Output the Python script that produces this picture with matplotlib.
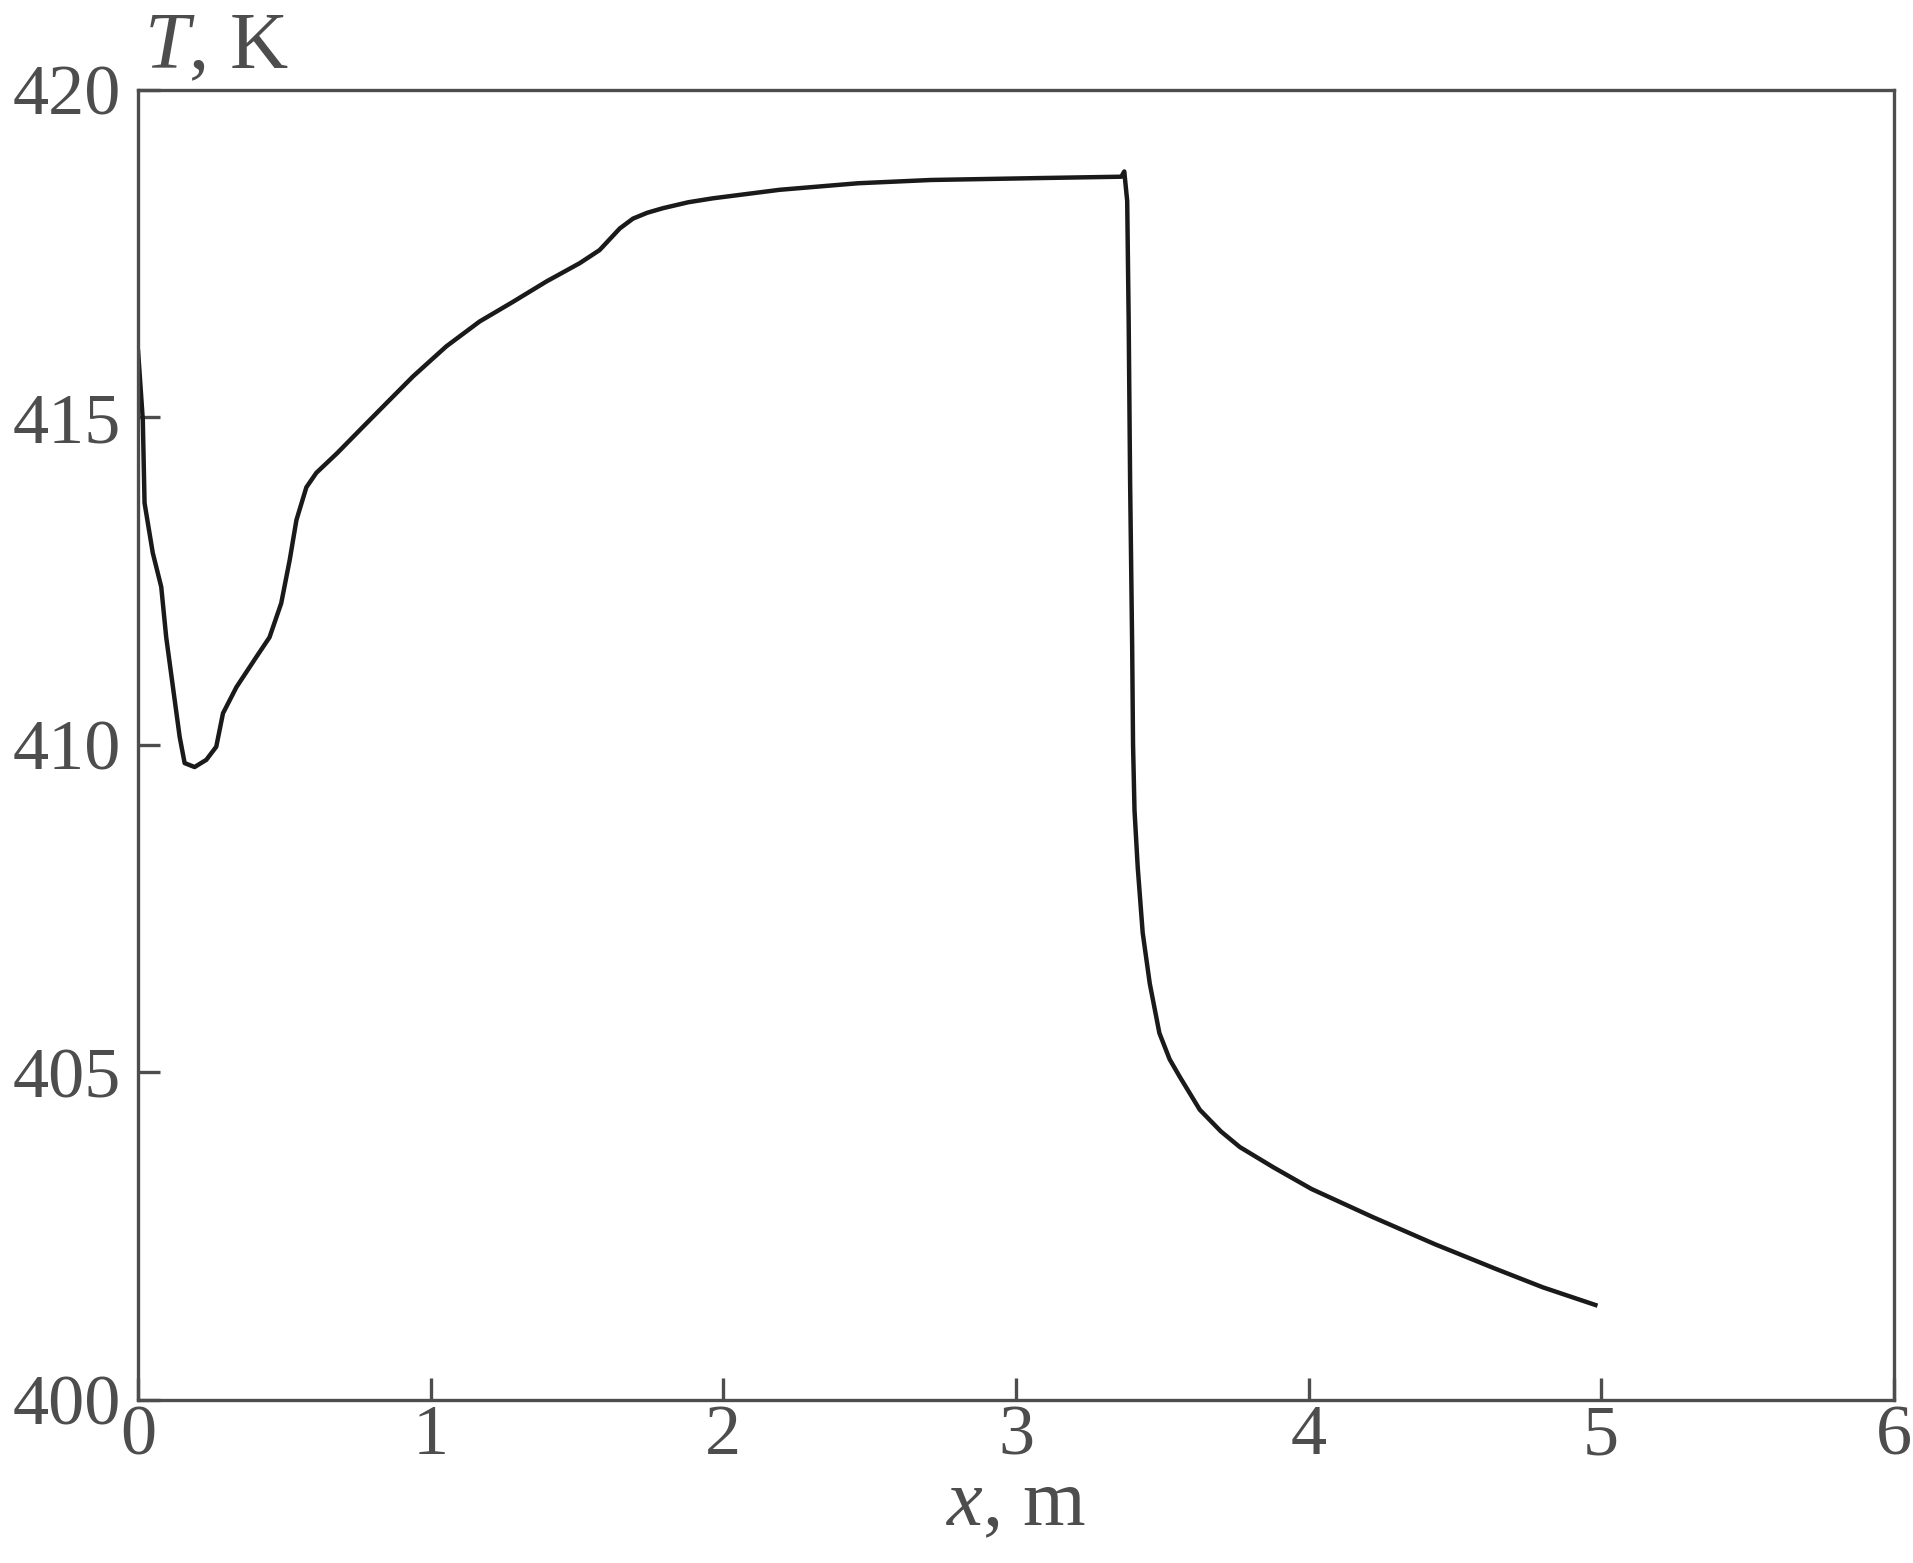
import matplotlib
matplotlib.use('Agg')
import matplotlib.pyplot as plt

# temperature profile along the length
x_m = [0.0, 0.016, 0.022, 0.05, 0.079, 0.096, 0.119, 0.142, 0.159, 0.193, 0.233, 0.267,
       0.29, 0.336, 0.404, 0.449, 0.489, 0.518, 0.541, 0.575, 0.609, 0.68, 0.768, 0.85,
       0.939, 1.053, 1.167, 1.281, 1.395, 1.509, 1.577, 1.646, 1.691, 1.74, 1.794, 1.88,
       1.964, 2.192, 2.46, 2.71, 3.09, 3.36, 3.37, 3.38, 3.385, 3.39, 3.397, 3.40,
       3.405, 3.416, 3.433, 3.457, 3.49, 3.525, 3.56, 3.628, 3.70, 3.765, 3.88, 4.01,
       4.22, 4.43, 4.64, 4.80, 4.98]
T_K = [416.0, 414.96, 413.69, 412.93, 412.41, 411.64, 410.88, 410.12, 409.72, 409.66, 409.77, 409.97,
       410.48, 410.88, 411.34, 411.64, 412.16, 412.82, 413.43, 413.93, 414.15, 414.45, 414.85, 415.22,
       415.62, 416.08, 416.46, 416.76, 417.07, 417.35, 417.55, 417.88, 418.03, 418.12, 418.19, 418.28,
       418.34, 418.47, 418.57, 418.62, 418.65, 418.67, 418.75, 418.3, 416.5, 414.0, 411.5, 410.0,
       409.0, 408.13, 407.13, 406.36, 405.6, 405.2, 404.93, 404.43, 404.1, 403.86, 403.55, 403.22,
       402.79, 402.38, 402.0, 401.72, 401.45]

x_ticks = [0, 1, 2, 3, 4, 5, 6]
T_ticks = [400, 405, 410, 415, 420]

grey = '#4d4d4d'
plt.rcParams['font.family'] = ['Liberation Serif', 'DejaVu Serif']
plt.rcParams['mathtext.fontset'] = 'custom'
plt.rcParams['mathtext.rm'] = 'Liberation Serif'
plt.rcParams['mathtext.it'] = 'Liberation Serif:italic'

fig = plt.figure(figsize=(19.13, 15.63), dpi=100)
ax = fig.add_axes([0.0722, 0.1043, 0.9178, 0.8384])

ax.plot(x_m, T_K, color='#1a1a1a', lw=3.2, solid_joinstyle='round')

ax.set_xlim(0, 6)
ax.set_ylim(400, 420)
ax.set_xticks(x_ticks)
ax.set_yticks(T_ticks)

for s in ax.spines.values():
    s.set_color(grey)
    s.set_linewidth(2.4)
ax.tick_params(direction='in', length=16, width=2.4, color=grey,
               labelcolor=grey, labelsize=52)
ax.tick_params(axis='x', pad=3)
ax.tick_params(axis='y', pad=12)

ax.set_xlabel(r'$x$, m', fontsize=58, color=grey, labelpad=0)
fig.text(0.0755, 0.9565, r'$T$, K', fontsize=58, color=grey, ha='left', va='baseline')

fig.savefig('out.png', dpi=100)
